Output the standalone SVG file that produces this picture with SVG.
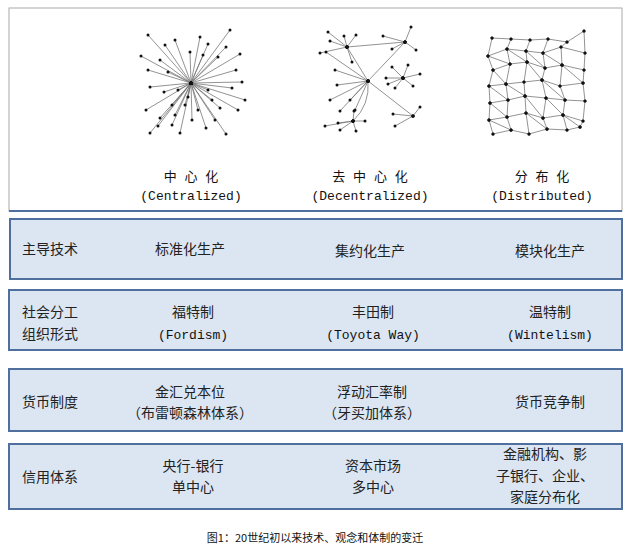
<svg xmlns="http://www.w3.org/2000/svg" width="630" height="551" viewBox="0 0 630 551">
<style>
.row{fill:#dce6f2;stroke:#4f6f9f;stroke-width:2}
.t{font-family:"Noto Sans CJK SC","Noto Sans",sans-serif;font-size:14px;fill:#222}
.c{text-anchor:middle}
.m{font-family:"Liberation Mono","Noto Sans CJK SC",monospace;font-size:13px;fill:#111;text-anchor:middle}
.e{fill:none;stroke:#777;stroke-width:0.8;marker-start:url(#d);marker-mid:url(#d);marker-end:url(#d)}
.cap{font-family:"Noto Sans CJK SC",sans-serif;font-size:11px;fill:#111;text-anchor:middle}
</style>
<defs><marker id="d" markerWidth="4" markerHeight="4" refX="2" refY="2" markerUnits="userSpaceOnUse"><circle cx="2" cy="2" r="1.5" fill="#111"/></marker></defs>
<rect width="630" height="551" fill="#fff"/>
<g id="top"><rect x="9" y="8" width="613" height="203" fill="#fff" stroke="#aaa" stroke-width="1"/><line x1="9" y1="211" x2="622" y2="211" stroke="#4f6f9f" stroke-width="2"/></g>
<g id="connectors">
<path class="e" d="M191 83L148 35M191 83L165 45M191 83L175 40M191 83L190 52M191 83L200 37M191 83L208 44M191 83L230 30M191 83L226 47M191 83L218 57M191 83L240 54M191 83L141 56M191 83L148 70M191 83L160 60M191 83L168 72M191 83L203 55M191 83L236 70M191 83L242 82M191 83L150 87M191 83L164 92M191 83L178 90M191 83L208 90M191 83L232 88M191 83L146 110M191 83L160 118M191 83L172 105M191 83L188 97M191 83L198 110M191 83L212 100M191 83L220 108M191 83L238 110M191 83L150 133M191 83L158 126M191 83L172 125M191 83L180 133M191 83L192 120M191 83L206 128M191 83L215 120M191 83L226 134M191 83L185 105M191 83L175 115M191 83L245 100"/>
<path class="e" d="M368 81L326 52M368 81L335 70M368 81L337 85M368 81L330 100M368 81L350 100M368 81L355 110M368 81L347 47M368 81L405 42M368 81L413 116M368 81Q370 105 353 121M347 47L328 32M347 47L330 41M347 47L320 53M347 47L344 36M347 47L356 35M347 47L352 62M347 47L405 42M405 42L411 27M405 42L383 36M405 42L392 49M405 42L416 50M403 78L386 78M403 78L392 67M403 78L408 65M403 78L420 74M403 78L413 86M403 78L395 88M403 78L388 84M413 116L420 107M413 116L393 114M413 116L395 126M353 121L340 130M353 121L338 123M353 121L354 111M353 121L365 121M353 121L356 131M353 121L325 126M368 81L340 111"/>
<path class="e" d="M492 38L511 39L530 40L548 39L567 42L584 31M488 56L507 49L526 51L543 53L561 47L585 53M493 70L510 64L527 62L545 68L562 65L584 70M489 86L506 84L524 82L542 80L560 86L583 83M490 103L508 100L525 96L546 98L565 100L585 101M489 120L507 117L526 113L543 118L563 115L583 121M493 134L511 130L529 134L547 129L567 130L580 127"/>
<path class="e" d="M492 38L488 56L493 70L489 86L490 103L489 120L493 134M511 39L507 49L510 64L506 84L508 100L507 117L511 130M530 40L526 51L527 62L524 82L525 96L526 113L529 134M548 39L543 53L545 68L542 80L546 98L543 118L547 129M567 42L561 47L562 65L560 86L565 100L563 115L567 130M584 31L585 53L584 70L583 83L585 101L583 121L580 127"/>
<path class="e" d="M488 56L510 64M507 49L527 62M526 51L545 68M543 53L562 65M493 70L506 84M527 62L542 80M562 65L583 83M489 86L508 100M506 84L525 96M542 80L565 100M490 103L507 117M525 96L543 118M546 98L563 115M489 120L511 130M526 113L547 129M563 115L580 127"/>
</g>
<g id="labels-top">
<text class="m" x="191" y="181">中 心 化</text><text class="m" x="191" y="200">(Centralized)</text>
<text class="m" x="370" y="181">去 中 心 化</text><text class="m" x="370" y="200">(Decentralized)</text>
<text class="m" x="542" y="181">分 布 化</text><text class="m" x="542" y="200">(Distributed)</text>
</g>
<g id="row1"><rect class="row" x="10" y="219" width="612" height="60"/>
<text class="t" x="22" y="254">主导技术</text><text class="t c" x="190" y="254">标准化生产</text><text class="t c" x="370" y="256">集约化生产</text><text class="t c" x="550" y="256">模块化生产</text></g>
<g id="row2"><rect class="row" x="9" y="290" width="613" height="60"/>
<text class="t" x="22" y="317">社会分工</text><text class="t" x="22" y="339">组织形式</text>
<text class="t c" x="193" y="317">福特制</text><text class="m" x="193" y="339">(Fordism)</text>
<text class="t c" x="373" y="317">丰田制</text><text class="m" x="373" y="339">(Toyota Way)</text>
<text class="t c" x="550" y="317">温特制</text><text class="m" x="550" y="339">(Wintelism)</text></g>
<g id="row3"><rect class="row" x="9" y="369" width="613" height="62"/>
<text class="t" x="22" y="407">货币制度</text>
<text class="t c" x="190" y="397">金汇兑本位</text><text class="t c" x="190" y="418">（布雷顿森林体系）</text>
<text class="t c" x="372" y="397">浮动汇率制</text><text class="t c" x="372" y="418">（牙买加体系）</text>
<text class="t c" x="550" y="407">货币竞争制</text></g>
<g id="row4"><rect class="row" x="9" y="444" width="613" height="65"/>
<text class="t" x="22" y="482">信用体系</text>
<text class="t c" x="193" y="471">央行-银行</text><text class="t c" x="193" y="492">单中心</text>
<text class="t c" x="373" y="471">资本市场</text><text class="t c" x="373" y="492">多中心</text>
<text class="t c" x="545" y="459">金融机构、影</text><text class="t c" x="545" y="481">子银行、企业、</text><text class="t c" x="545" y="502">家庭分布化</text></g>
<text class="cap" x="315" y="542">图1：20世纪初以来技术、观念和体制的变迁</text>
</svg>
